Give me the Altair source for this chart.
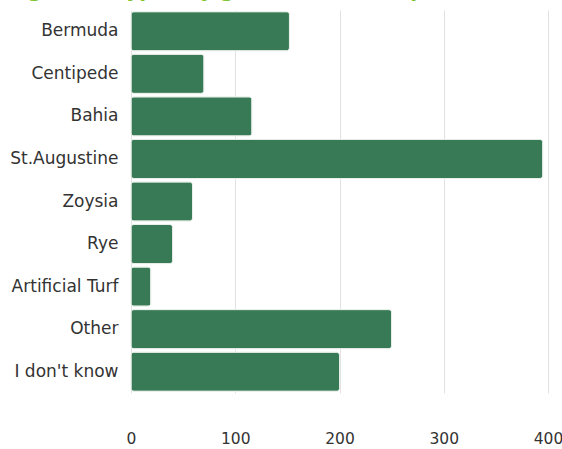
import altair as alt
import pandas as pd

categories = ["Bermuda", "Centipede", "Bahia", "St.Augustine", "Zoysia", "Rye",
              "Artificial Turf", "Other", "I don't know"]
counts = [152, 70, 116, 395, 59, 40, 19, 250, 200]
x_ticks = [0, 100, 200, 300, 400]
title_text = "Avg. lawn types by grass in Florida, per home"

df = pd.DataFrame({"grass": categories, "count": counts})
tdf = pd.DataFrame({"t": [title_text]})

FONT = "DejaVu Sans"

bars = alt.Chart(df).mark_bar(
    color="#377a55", cornerRadius=3, stroke="#e8efe9", strokeWidth=1
).encode(
    x=alt.X("count:Q", scale=alt.Scale(domain=[0, 400], nice=False),
            axis=alt.Axis(values=x_ticks, title=None, domain=False, ticks=False,
                          grid=True, gridColor="#e2e2e2", labelPadding=38,
                          labelFlush=False,
                          labelFontSize=15.5, labelColor="#333333", labelFont=FONT)),
    y=alt.Y("grass:N", sort=categories,
            scale=alt.Scale(paddingInner=0.08, paddingOuter=0.04),
            axis=alt.Axis(title=None, domain=False, ticks=False, labelPadding=13,
                          labelFontSize=17, labelColor="#333333", labelFont=FONT)),
)

title = alt.Chart(tdf).mark_text(
    align="left", baseline="alphabetic", fontSize=20, fontWeight="bold",
    color="#7dc42e", font=FONT
).encode(text="t:N", x=alt.value(-131), y=alt.value(-13))

chart = alt.layer(bars, title).properties(
    width=417, height=383,
    padding={"left": 131, "top": 10, "right": 14, "bottom": 56},
    autosize=alt.AutoSizeParams(type="none"),
).configure_view(stroke=None)

chart.save("out.html", embed_options={"renderer": "svg", "actions": False})
